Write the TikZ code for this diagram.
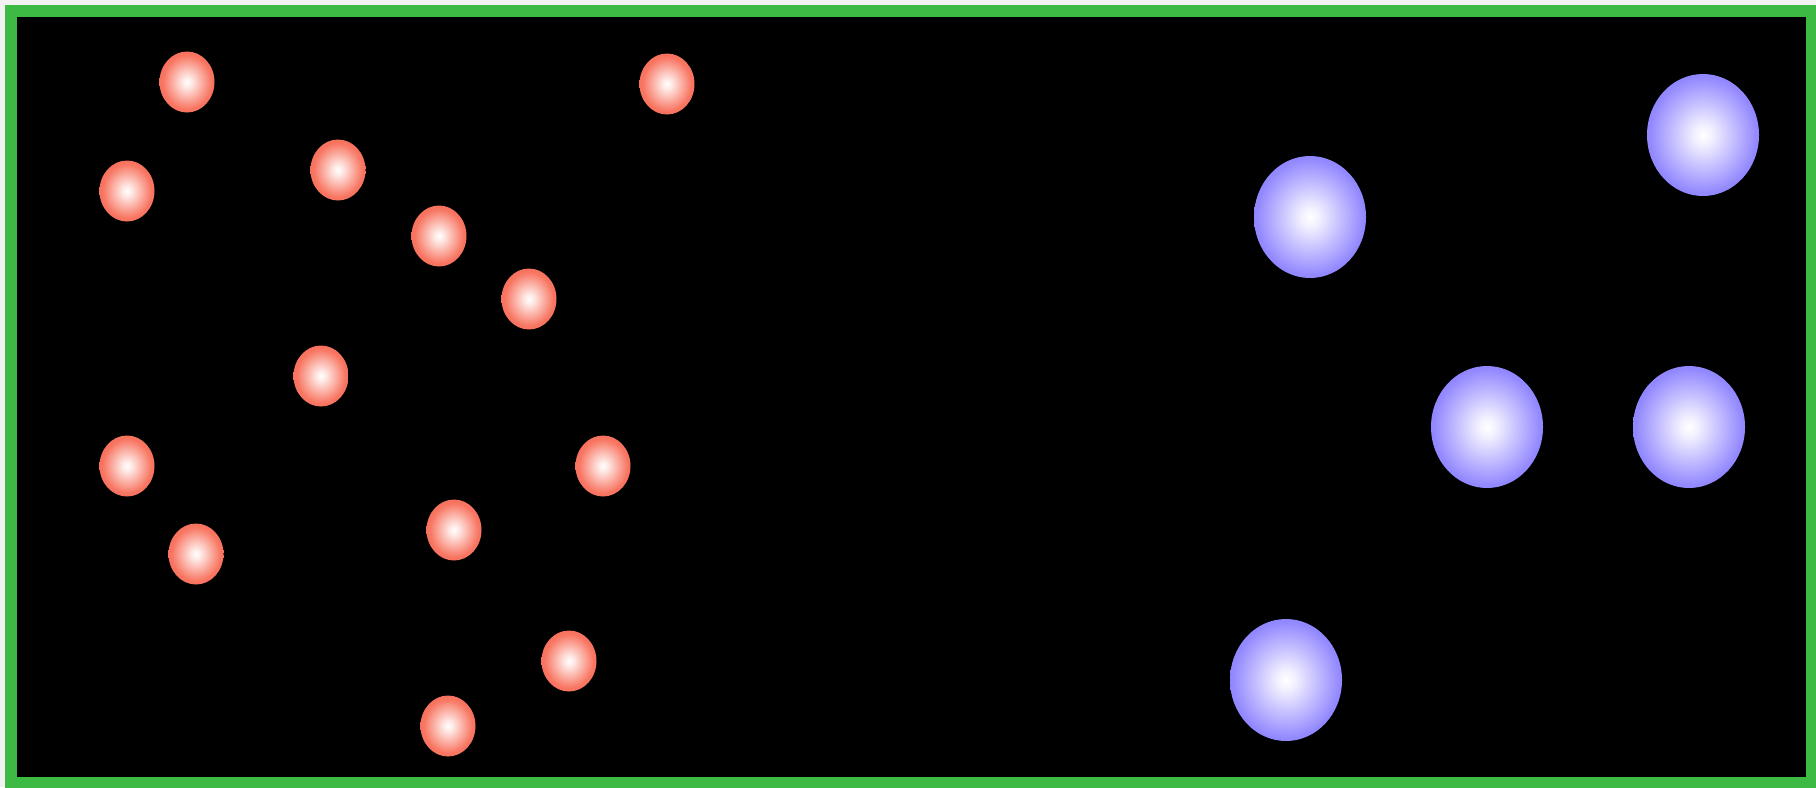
\documentclass[tikz,border=0pt]{standalone}
\usepackage{tikz}

% Colores de las bolas y del marco
\definecolor{marco}{RGB}{60,186,68}
\definecolor{rojomedio}{RGB}{248,118,98}
\definecolor{rojoborde}{RGB}{232,88,66}
\definecolor{azulmedio}{RGB}{146,136,255}
\definecolor{azulborde}{RGB}{108,96,242}

% Sombreados radiales con brillo centrado
\pgfdeclareradialshading{bolaroja}{\pgfpoint{0bp}{0bp}}{%
    color(0bp)=(white); color(4bp)=(white!85!rojomedio);
    color(22bp)=(rojomedio); color(44bp)=(rojoborde);
    color(50bp)=(rojoborde!65!black)}
\pgfdeclareradialshading{bolaazul}{\pgfpoint{0bp}{0bp}}{%
    color(0bp)=(white); color(4bp)=(white!88!azulmedio);
    color(24bp)=(azulmedio); color(45bp)=(azulborde);
    color(50bp)=(azulborde!60!black)}

\begin{document}
\begin{tikzpicture}[
    roja/.style={shading=bolaroja},
    azul/.style={shading=bolaazul}]
    % Caja con fondo negro y marco verde
    \useasboundingbox (0,0) rectangle (18.16,7.87);
    \fill[white!90!gray] (0,0) rectangle (18.16,7.87);
    \draw[line width=0.12cm, draw=marco, fill=black] (0.11,0.04) rectangle (18.12,7.76);

    % Bolas rojas (pequeñas, a la izquierda)
    \shade[roja] (1.87,7.05) ellipse (0.275 and 0.305);
    \shade[roja] (6.67,7.03) ellipse (0.275 and 0.305);
    \shade[roja] (1.27,5.96) ellipse (0.275 and 0.305);
    \shade[roja] (3.38,6.17) ellipse (0.275 and 0.305);
    \shade[roja] (4.39,5.51) ellipse (0.275 and 0.305);
    \shade[roja] (5.29,4.88) ellipse (0.275 and 0.305);
    \shade[roja] (3.21,4.11) ellipse (0.275 and 0.305);
    \shade[roja] (1.27,3.21) ellipse (0.275 and 0.305);
    \shade[roja] (6.03,3.21) ellipse (0.275 and 0.305);
    \shade[roja] (1.96,2.33) ellipse (0.275 and 0.305);
    \shade[roja] (4.54,2.57) ellipse (0.275 and 0.305);
    \shade[roja] (5.69,1.26) ellipse (0.275 and 0.305);
    \shade[roja] (4.48,0.61) ellipse (0.275 and 0.305);

    % Bolas azules (grandes, a la derecha)
    \shade[azul] (13.10,5.70) ellipse (0.56 and 0.61);
    \shade[azul] (17.03,6.52) ellipse (0.56 and 0.61);
    \shade[azul] (14.87,3.60) ellipse (0.56 and 0.61);
    \shade[azul] (16.89,3.60) ellipse (0.56 and 0.61);
    \shade[azul] (12.86,1.07) ellipse (0.56 and 0.61);
\end{tikzpicture}
\end{document}
